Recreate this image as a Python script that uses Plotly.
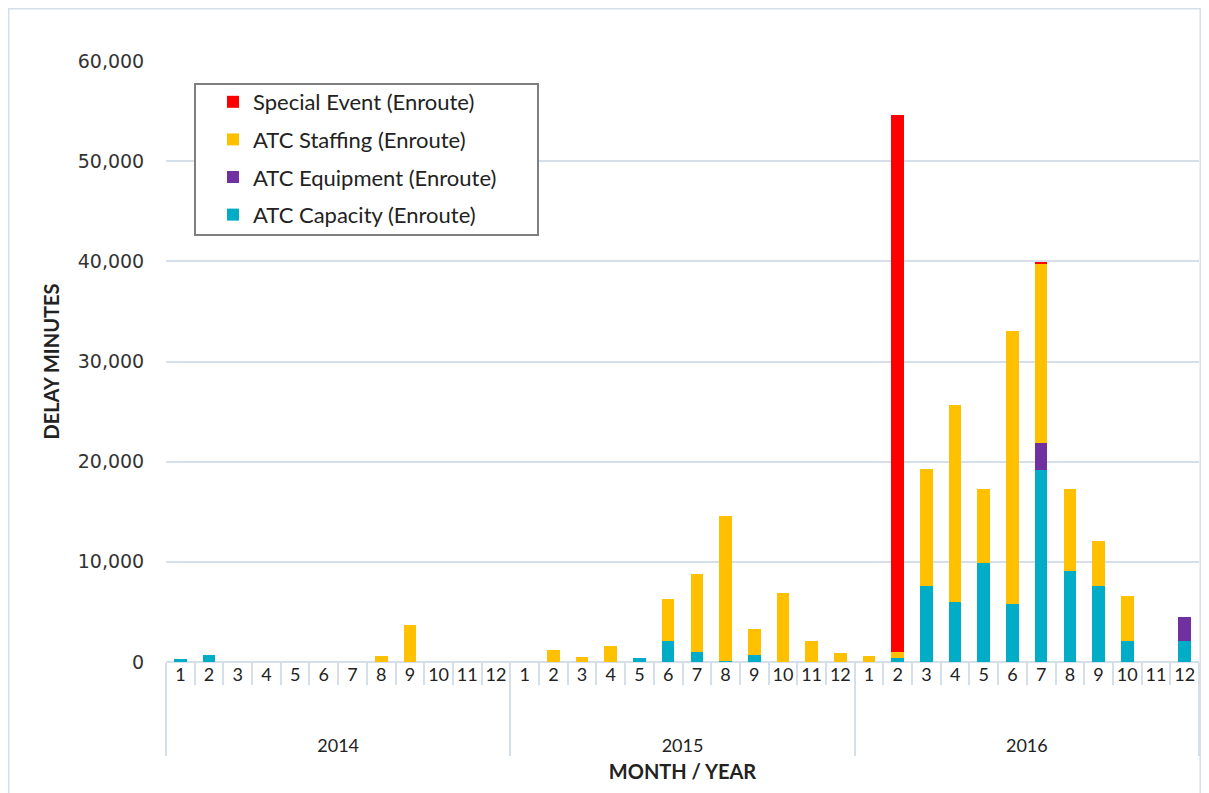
import plotly.graph_objects as go

year_names = ["2014", "2015", "2016"]
years = [y for y in year_names for _ in range(12)]
months = [str(m) for m in range(1, 13)] * 3

capacity = [300, 650, 0, 0, 0, 0, 0, 0, 0, 0, 0, 0,
            0, 0, 0, 0, 430, 2100, 970, 150, 670, 0, 0, 0,
            0, 430, 7600, 6000, 9850, 5800, 19200, 9100, 7600, 2100, 0, 2050]
equipment = [0] * 24 + [0, 0, 0, 0, 0, 0, 2650, 0, 0, 0, 0, 2450]
staffing = [0, 0, 0, 0, 0, 0, 0, 600, 3700, 0, 0, 0,
            0, 1150, 450, 1600, 0, 4150, 7830, 14450, 2630, 6850, 2100, 900,
            630, 540, 11700, 19650, 7450, 27200, 17950, 8200, 4500, 4500, 0, 0]
special = [0] * 24 + [0, 53630, 0, 0, 0, 0, 100, 0, 0, 0, 0, 0]

series = [
    ("ATC Capacity (Enroute)", capacity, "#00acc6", 4),
    ("ATC Equipment (Enroute)", equipment, "#7030a0", 3),
    ("ATC Staffing (Enroute)", staffing, "#ffc000", 2),
    ("Special Event (Enroute)", special, "#ff0000", 1),
]

year_labels = ["<br><br>" + y for y in years]

fig = go.Figure()
for i, (name, vals, col, rank) in enumerate(series):
    fig.add_trace(go.Bar(
        x=[year_labels, months], y=vals, name=name,
        legendgroup="g%d" % i, legendrank=rank,
        marker=dict(color=col, line=dict(width=0)),
    ))

W, H = 1193, 785
L, R, T, B = 158, 2, 53, 131
pw, ph = W - L - R, H - T - B

def px(x):
    return (x - L) / pw

def py(y):
    return 1 - (y - T) / ph

grid = "#d5dfea"
fig.update_layout(
    barmode="stack",
    bargap=0.56,
    width=W, height=H,
    paper_bgcolor="white", plot_bgcolor="white",
    margin=dict(l=L, r=R, t=T, b=B),
    font=dict(family="Lato, sans-serif", color="#222222"),
    legend=dict(
        x=px(205), y=py(73), xanchor="left", yanchor="top",
        traceorder="grouped",
        borderwidth=0, bgcolor="rgba(0,0,0,0)",
        font=dict(family="Lato, sans-serif", size=22, color="#222222"),
        tracegroupgap=6,
    ),
    showlegend=True,
)
fig.update_yaxes(
    range=[0, 60000], tickvals=[0, 10000, 20000, 30000, 40000, 50000, 60000],
    tickformat=",d", showgrid=True, gridcolor=grid, gridwidth=2,
    zeroline=True, zerolinecolor=grid, zerolinewidth=2,
    tickfont=dict(family="DejaVu Sans, sans-serif", size=19, color="#333333"),
    ticks="outside", ticklen=17, tickcolor="white",
    title=dict(text="<b>DELAY MINUTES</b>", font=dict(family="Lato, sans-serif", size=20, color="#222222"), standoff=12),
)
fig.update_xaxes(
    type="multicategory",
    showdividers=True, dividercolor=grid, dividerwidth=2,
    ticks="outside", tickson="boundaries", ticklen=22, tickcolor=grid, tickwidth=2,
    tickangle=0,
    showline=False,
    tickfont=dict(family="Lato, sans-serif", size=18, color="#222222"),
    title=dict(text="<b>MONTH / YEAR</b>", font=dict(family="Lato, sans-serif", size=20, color="#222222"), standoff=10),
)
# outer chart border
fig.add_shape(type="rect", xref="paper", yref="paper",
              x0=px(0.5), x1=px(W - 0.5), y0=py(H + 5), y1=py(0.5),
              line=dict(color=grid, width=2))
# legend box
fig.add_shape(type="rect", xref="paper", yref="paper",
              x0=px(187), x1=px(530), y0=py(227), y1=py(76),
              line=dict(color="#7f7f7f", width=2), fillcolor="white", layer="above")
fig.write_html("out.html")
